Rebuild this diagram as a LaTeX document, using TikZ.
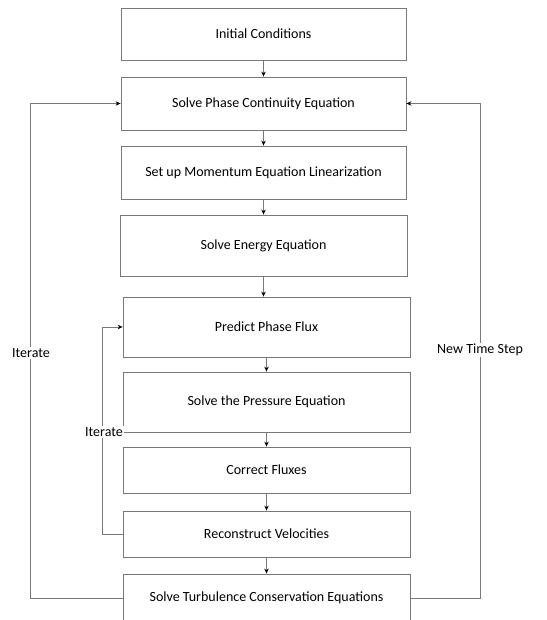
\documentclass[tikz,border=0pt]{standalone}
\usepackage{fontspec}
\setmainfont{Carlito}
\usetikzlibrary{arrows.meta,positioning}
\definecolor{flowgray}{RGB}{120,120,120}
\tikzset{
  stage/.style={rectangle,draw=flowgray,fill=white,line width=0.8pt,
                minimum width=#1,align=center,font=\fontsize{14}{16}\selectfont},
  stage/.default=287pt,
  arr/.style={flowgray,line width=0.8pt,-{Stealth[length=5pt,width=4.5pt,color=black]}},
  loopnote/.style={fill=white,inner sep=1pt,font=\fontsize{14}{16}\selectfont},
}
\begin{document}
\begin{tikzpicture}[x=1pt,y=-1pt]
  \path[use as bounding box] (0,0) rectangle (546,620);
  \clip (0,0) rectangle (546,620);

  % main sequence
  \node[stage=285pt,minimum height=52pt] (init) at (263.5,34) {Initial Conditions};
  \node[stage=285pt,minimum height=53pt] (cont) at (263.5,103.5) {Solve Phase Continuity Equation};
  \node[stage=285pt,minimum height=53pt] (mom) at (263.5,172.5) {Set up Momentum Equation Linearization};
  \node[stage,minimum height=61pt] (energy) at (263.5,245.5) {Solve Energy Equation};
  \node[stage,minimum height=60pt] (flux) at (266.5,327) {Predict Phase Flux};
  \node[stage,minimum height=60pt] (press) at (266.5,402) {Solve the Pressure Equation};
  \node[stage,minimum height=46pt] (corr) at (266.5,470) {Correct Fluxes};
  \node[stage,minimum height=46pt] (recon) at (266.5,534) {Reconstruct Velocities};
  \node[stage,minimum height=48pt] (turb) at (266.5,598) {Solve Turbulence Conservation Equations};

  \draw[arr] (init) -- (cont);
  \draw[arr] (cont) -- (mom);
  \draw[arr] (mom) -- (energy);
  \draw[arr] (energy.south) -- (energy.south |- flux.north);
  \draw[arr] (flux) -- (press);
  \draw[arr] (press) -- (corr);
  \draw[arr] (corr) -- (recon);
  \draw[arr] (recon) -- (turb);

  % loops
  \coordinate (outl) at (30,0);
  \coordinate (outr) at (480,0);
  \coordinate (inl) at (102,0);
  \draw[arr] (turb.west) -- (outl |- turb.west) -- (outl |- cont.west) -- (cont.west);
  \draw[arr] (turb.east) -- (outr |- turb.east) -- (outr |- cont.east) -- (cont.east);
  \draw[arr] (recon.west) -- (inl |- recon.west) -- (inl |- flux.west) -- (flux.west);

  \node[loopnote] (itouter) at (31,353) {Iterate};
  \node[loopnote] (newstep) at (480,350) {New Time Step};
  \node[loopnote] (itinner) at (104,432) {Iterate};
\end{tikzpicture}
\end{document}
